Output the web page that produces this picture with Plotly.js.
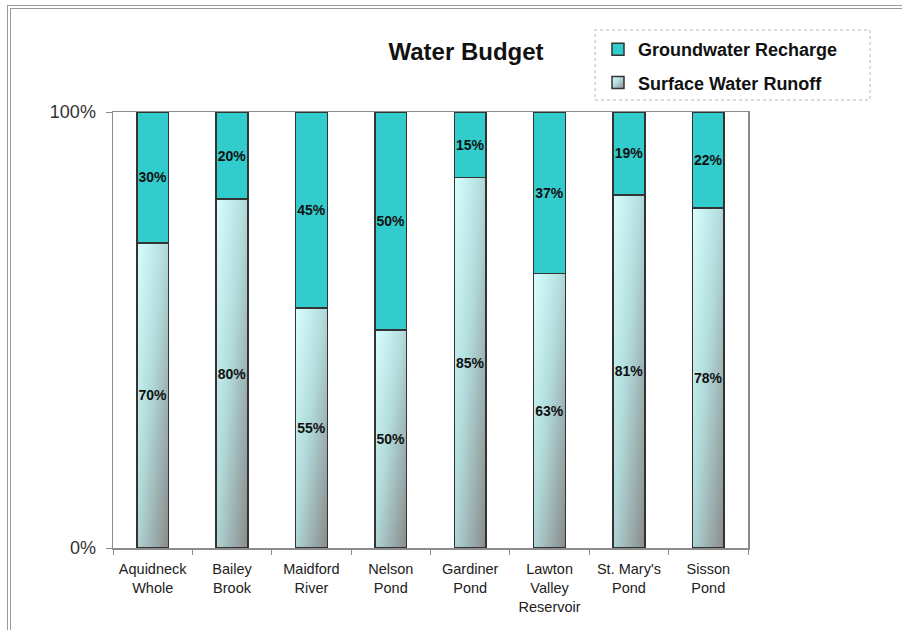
<!DOCTYPE html>
<html>
<head>
<meta charset="utf-8">
<script src="https://cdn.plot.ly/plotly-3.0.1.min.js"></script>
<style>
  html, body { margin: 0; padding: 0; background: #ffffff; overflow: hidden; }
  #frame { position: absolute; left: 7px; top: 5px; width: 1000px; height: 800px;
           border-top: 4px double #9a9a9a; border-left: 4px double #9a9a9a; pointer-events: none; }
  #chart { position: absolute; left: 0; top: 0; width: 902px; height: 630px; }
</style>
</head>
<body>
<div id="frame"></div>
<div id="chart"></div>
<script>
// ---- data ----
const categories = ["Aquidneck Whole", "Bailey Brook", "Maidford River", "Nelson Pond",
                    "Gardiner Pond", "Lawton Valley Reservoir", "St. Mary's Pond", "Sisson Pond"];
const tickLabels = ["Aquidneck<br>Whole", "Bailey<br>Brook", "Maidford<br>River", "Nelson<br>Pond",
                    "Gardiner<br>Pond", "Lawton<br>Valley<br>Reservoir", "St. Mary's<br>Pond", "Sisson<br>Pond"];
const surfaceRunoff = [70, 80, 55, 50, 85, 63, 81, 78];
const groundwaterRecharge = [30, 20, 45, 50, 15, 37, 19, 22];
const yTickVals = [0, 100];
const yTickText = ["0%", "100%"];

const FONT = "Arial, 'Liberation Sans', sans-serif";
const labelFont = { family: FONT, size: 14, color: "#111111", weight: "bold" };

// pixel -> paper helpers for the plot area (l=113, r=748, t=112, b=548)
const px = v => (v - 113) / 635;
const py = v => (548 - v) / 436;

const traces = [
  {
    type: "bar", name: "Surface Water Runoff", x: categories, y: surfaceRunoff,
    width: 0.4, legendrank: 2, legendgroup: "s",
    marker: { color: "#b8e0e0", line: { color: "#333333", width: 1.5 } },
    texttemplate: "%{y}%", textposition: "inside", insidetextanchor: "middle",
    textangle: 0, constraintext: "none", insidetextfont: labelFont, hoverinfo: "skip"
  },
  {
    type: "bar", name: "Groundwater Recharge", x: categories, y: groundwaterRecharge,
    width: 0.4, legendrank: 1, legendgroup: "g",
    marker: { color: "#33cccc", line: { color: "#333333", width: 1.5 } },
    texttemplate: "%{y}%", textposition: "inside", insidetextanchor: "middle",
    textangle: 0, constraintext: "none", insidetextfont: labelFont, hoverinfo: "skip"
  }
];

const layout = {
  width: 902, height: 630,
  paper_bgcolor: "rgba(0,0,0,0)", plot_bgcolor: "#ffffff",
  margin: { l: 113, r: 154, t: 112, b: 82 },
  barmode: "stack",
  showlegend: true,
  title: {
    text: "Water Budget", x: 466 / 902, xanchor: "center", y: 1 - 52 / 630, yanchor: "middle",
    font: { family: FONT, size: 24, color: "#111111", weight: "bold" }
  },
  legend: {
    xref: "paper", yref: "paper", x: px(598), y: py(31),
    xanchor: "left", yanchor: "top", traceorder: "grouped", tracegroupgap: 7,
    bgcolor: "rgba(0,0,0,0)", borderwidth: 0,
    font: { family: FONT, size: 18, color: "#111111", weight: "bold" }
  },
  xaxis: {
    type: "category", tickvals: categories, ticktext: tickLabels, tickangle: 0,
    showline: true, linecolor: "#8c8c8c", linewidth: 1.5, mirror: true,
    ticks: "outside", tickson: "boundaries", ticklen: 5, tickcolor: "#8c8c8c", tickwidth: 1,
    tickfont: { family: FONT, size: 14.5, color: "#222222" }, showgrid: false,
    ticklabelstandoff: 7
  },
  yaxis: {
    range: [0, 100], tickvals: yTickVals, ticktext: yTickText,
    showline: true, linecolor: "#8c8c8c", linewidth: 1.5, mirror: true,
    ticks: "outside", ticklen: 6, tickcolor: "#8c8c8c", tickwidth: 1,
    tickfont: { family: FONT, size: 18, color: "#333333" },
    showgrid: false, zeroline: false, ticklabelstandoff: 6
  },
  shapes: [{
    type: "rect", xref: "paper", yref: "paper",
    x0: px(595), x1: px(870), y0: py(100), y1: py(30),
    line: { color: "#cfcfcf", width: 1.5, dash: "dot" }, fillcolor: "rgba(0,0,0,0)"
  }]
};

Plotly.newPlot("chart", traces, layout, { displayModeBar: false, staticPlot: true }).then(function (gd) {
  const svgNS = "http://www.w3.org/2000/svg";
  const defs = gd.querySelector("svg.main-svg defs");
  const grad = document.createElementNS(svgNS, "linearGradient");
  grad.setAttribute("id", "surfGrad");
  grad.setAttribute("x1", "0"); grad.setAttribute("y1", "0");
  grad.setAttribute("x2", "1"); grad.setAttribute("y2", "1");
  [["0", "#d8ffff"], ["0.45", "#b2dcdc"], ["1", "#8a8a8a"]].forEach(function (s) {
    const st = document.createElementNS(svgNS, "stop");
    st.setAttribute("offset", s[0]); st.setAttribute("stop-color", s[1]);
    grad.appendChild(st);
  });
  defs.appendChild(grad);
  const barTraces = gd.querySelectorAll(".barlayer .trace.bars");
  if (barTraces.length) {
    barTraces[0].querySelectorAll(".point path").forEach(function (p) { p.style.fill = "url(#surfGrad)"; });
  }
  gd.querySelectorAll(".legend .traces").forEach(function (t) {
    const txt = t.querySelector(".legendtext");
    if (txt && txt.textContent.indexOf("Surface") === 0) {
      t.querySelectorAll(".legendpoints path").forEach(function (p) { p.style.fill = "url(#surfGrad)"; });
    }
  });
});
</script>
</body>
</html>
